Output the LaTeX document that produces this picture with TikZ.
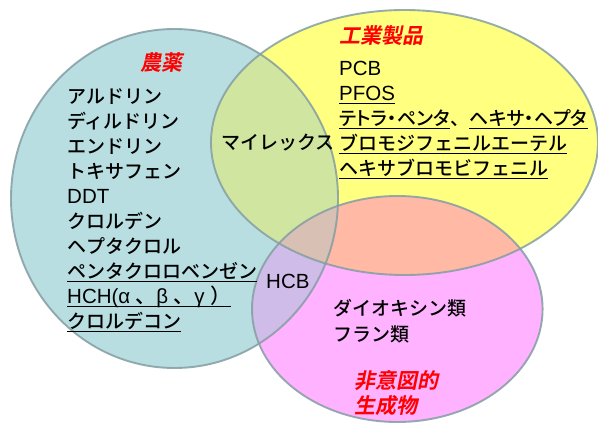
\documentclass[tikz,border=0pt]{standalone}
\usepackage{fontspec}
\newfontfamily\jp{Noto Sans CJK JP Medium}
\newfontfamily\jpp{Noto Sans CJK JP Medium}[RawFeature=+palt]
\newfontfamily\lat{Liberation Sans}
\newfontfamily\jpred{Noto Sans CJK JP Bold}[FakeSlant=0.2]
\definecolor{cblue}{RGB}{184,222,226}
\definecolor{cyellow}{RGB}{255,255,128}
\definecolor{cpink}{RGB}{255,178,255}
\definecolor{cBY}{RGB}{208,230,160}
\definecolor{cYP}{RGB}{255,185,165}
\definecolor{cBP}{RGB}{208,188,232}
\definecolor{cAll}{RGB}{216,192,180}
\definecolor{cline}{RGB}{132,158,162}
\tikzset{
  txt/.style={anchor=base west, inner sep=0pt, font=\jp\fontsize{19}{19}\selectfont},
  ltxt/.style={anchor=base west, inner sep=0pt, font=\lat\fontsize{20.5}{20.5}\selectfont},
  red/.style={anchor=base west, inner sep=0pt, text=red, font=\jpred\fontsize{21}{21}\selectfont},
  ul/.style={line width=1.3pt, black},
  rim/.style={draw=cline, line width=1.9pt, draw opacity=0.85}
}
\newcommand{\ulnode}[1]{\draw[ul] ([yshift=-3.5pt]#1.base west) -- ([yshift=-3.5pt]#1.base east);}
\def\blueE{(174.5,198.5) ellipse [x radius=163.5pt, y radius=169.5pt]}
\def\yelE{(404.5,142.5) ellipse [x radius=193.5pt, y radius=132.5pt]}
\def\pinkE{(397.3,309) ellipse [x radius=145.3pt, y radius=113pt]}
\begin{document}
\begin{tikzpicture}[x=1pt,y=-1pt]
\useasboundingbox (0,0) rectangle (598,423);
\fill[white] (0,0) rectangle (598,423);
% fills
\fill[cblue] \blueE;
\fill[cyellow] \yelE;
\fill[cpink] \pinkE;
\begin{scope}\clip \blueE; \fill[cBY] \yelE; \end{scope}
\begin{scope}\clip \yelE; \fill[cYP] \pinkE; \end{scope}
\begin{scope}\clip \blueE; \fill[cBP] \pinkE; \end{scope}
\begin{scope}\clip \blueE; \clip \yelE; \fill[cAll] \pinkE; \end{scope}
% outlines
\draw[rim] \blueE;
\draw[rim] \yelE;
\draw[rim] \pinkE;
% headings
\node[red] (hA) at (140,70.5) {農薬};
\node[red] (hB) at (339,43.5) {工業製品};
\node[red] (hC1) at (354,388.5) {非意図的};
\node[red] (hC2) at (354,413.5) {生成物};
% pesticides
\node[txt] (a1) at (67,103) {アルドリン};
\node[txt] (a2) at (67,128) {ディルドリン};
\node[txt] (a3) at (67,153) {エンドリン};
\node[txt] (a4) at (67,178) {トキサフェン};
\node[ltxt] (a5) at (67,203) {DDT};
\node[txt] (a6) at (67,228) {クロルデン};
\node[txt] (a7) at (67,253) {ヘプタクロル};
\node[txt] (a8) at (67,278) {ペンタクロロベンゼン};
\node[ltxt] (a9) at (67,303) {HCH(α\ {\jp 、}β\ {\jp 、}γ\ {\jp ）}};
\node[txt] (a10) at (67,328) {クロルデコン};
\ulnode{a8}
\ulnode{a9}
\ulnode{a10}
% industrial
\node[ltxt] (b1) at (339,75) {PCB};
\node[ltxt] (b2) at (339,100) {PFOS};
\node[txt, font=\jpp\fontsize{19}{19}\selectfont] (b3a) at (339,125) {テトラ・ペンタ};
\node[txt] (b3b) at (b3a.base east) {、};
\node[txt, font=\jpp\fontsize{19}{19}\selectfont] (b3c) at (b3b.base east) {ヘキサ・ヘプタ};
\node[txt] (b4) at (339,150) {ブロモジフェニルエーテル};
\node[txt] (b5) at (339,175) {ヘキサブロモビフェニル};
\ulnode{b2}
\ulnode{b3a}
\ulnode{b3c}
\ulnode{b4}
\ulnode{b5}
% intersections
\node[txt] (m) at (221,149.5) {マイレックス};
\node[ltxt] (hcb) at (266,288) {HCB};
% unintentional
\node[txt] (c1) at (333,315) {ダイオキシン類};
\node[txt] (c2) at (333,341) {フラン類};
\end{tikzpicture}
\end{document}
